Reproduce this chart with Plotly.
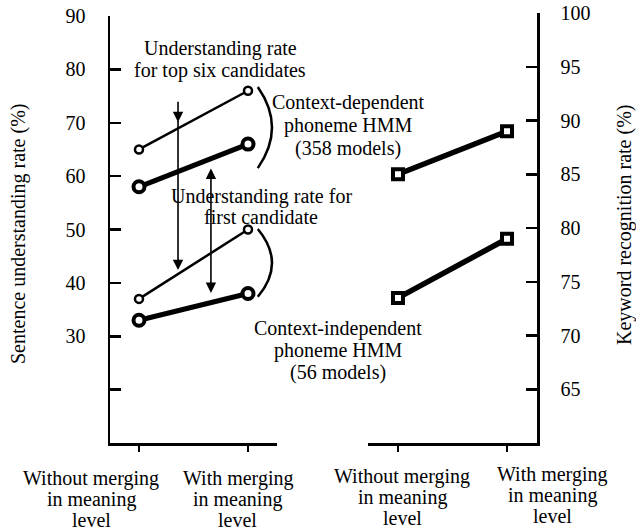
import plotly.graph_objects as go

W, H = 636, 531

# ---------------- data ----------------
categories = ["Without merging in meaning level", "With merging in meaning level"]
category_lines = [["Without merging", "in meaning", "level"], ["With merging", "in meaning", "level"]]

# Sentence understanding rate (%) - left panel
top6_context_dependent = [65, 76]
first_context_dependent = [58, 66]
top6_context_independent = [37, 50]
first_context_independent = [33, 38]

# Keyword recognition rate (%) - right panel
keyword_context_dependent = [85, 89]
keyword_context_independent = [73.5, 79]

left_tickvals = [20, 30, 40, 50, 60, 70, 80, 90]
left_ticktext = ["", "30", "40", "50", "60", "70", "80", "90"]
right_tickvals = [65, 70, 75, 80, 85, 90, 95, 100]
right_ticktext = ["65", "70", "75", "80", "85", "90", "95", "100"]

FONT = "Liberation Serif"


def px(x):
    return x / W


def py(y):
    return 1 - y / H


fig = go.Figure()

left_series = [
    (top6_context_dependent, 2.5, 8, 2.5),
    (first_context_dependent, 5, 11, 4),
    (top6_context_independent, 2.5, 8, 2.5),
    (first_context_independent, 5, 11, 4),
]
for vals, lw, ms, mlw in left_series:
    fig.add_trace(go.Scatter(
        x=categories, y=vals, mode="lines+markers",
        line=dict(color="black", width=lw),
        marker=dict(symbol="circle", size=ms, color="white",
                    line=dict(color="black", width=mlw)),
        xaxis="x", yaxis="y", showlegend=False, hoverinfo="skip", cliponaxis=False))

for vals in (keyword_context_dependent, keyword_context_independent):
    fig.add_trace(go.Scatter(
        x=categories, y=vals, mode="lines+markers",
        line=dict(color="black", width=5.5),
        marker=dict(symbol="square", size=10, color="white",
                    line=dict(color="black", width=4)),
        xaxis="x2", yaxis="y2", showlegend=False, hoverinfo="skip", cliponaxis=False))

axis_common = dict(showline=True, linecolor="black", linewidth=2.5, showgrid=False,
                   zeroline=False, tickcolor="black", automargin=False)

fig.update_layout(
    width=W, height=H, autosize=False,
    margin=dict(l=0, r=0, t=0, b=0, pad=0),
    paper_bgcolor="white", plot_bgcolor="white",
    showlegend=False,
    xaxis=dict(domain=[px(110), px(277)], type="category", range=[-0.266, 1.266],
               ticks="outside", ticklen=6, tickwidth=2, showticklabels=False,
               anchor="y", **axis_common),
    yaxis=dict(domain=[py(443), py(16)], range=[10, 90], tickvals=left_tickvals,
               ticktext=left_ticktext, ticks="inside", ticklen=11, tickwidth=2.5,
               tickfont=dict(family=FONT, size=20, color="black"),
               ticklabelstandoff=18, ticklabeloverflow="allow",
               anchor="x", **axis_common),
    xaxis2=dict(domain=[px(368), px(537)], type="category", range=[-0.275, 1.275],
                ticks="outside", ticklen=6, tickwidth=2, showticklabels=False,
                anchor="y2", **axis_common),
    yaxis2=dict(domain=[py(443), py(13)], range=[60, 100], tickvals=right_tickvals,
                ticktext=right_ticktext, ticks="inside", ticklen=11, tickwidth=2.5,
                side="right", tickfont=dict(family=FONT, size=20, color="black"),
                ticklabelstandoff=17, ticklabeloverflow="allow",
                anchor="x2", **axis_common),
)

annotations = []


def add_lines(lines, cx, y0, dy=22, size=20):
    for i, t in enumerate(lines):
        annotations.append(dict(
            text=t, x=px(cx), y=py(y0 + i * dy), xref="paper", yref="paper",
            xanchor="center", yanchor="middle", showarrow=False,
            font=dict(family=FONT, size=size, color="black")))


# category labels under each panel
add_lines(category_lines[0], 91, 478, dy=21)
add_lines(category_lines[1], 238, 478, dy=21)
add_lines(category_lines[0], 402, 476, dy=21)
add_lines(category_lines[1], 552, 474, dy=21)

# in-plot labels
add_lines(["Understanding rate", "for top six candidates"], 220, 48, dy=22)
add_lines(["Context-dependent", "phoneme HMM", "(358 models)"], 348, 102, dy=23)
add_lines(["Understanding rate for", "first candidate"], 261, 196, dy=21)
add_lines(["Context-independent", "phoneme HMM", "(56 models)"], 338, 328, dy=22)

# axis titles
annotations.append(dict(text="Sentence understanding rate (%)", x=px(19), y=py(234),
                        xref="paper", yref="paper", textangle=-90, showarrow=False,
                        xanchor="center", yanchor="middle",
                        font=dict(family=FONT, size=20, color="black")))
annotations.append(dict(text="Keyword recognition rate (%)", x=px(624), y=py(225),
                        xref="paper", yref="paper", textangle=-90, showarrow=False,
                        xanchor="center", yanchor="middle",
                        font=dict(family=FONT, size=20, color="black")))

# arrows (left panel, data coordinates)
arrow_style = dict(xref="x", yref="y", axref="x", ayref="y", text="", showarrow=True,
                   arrowcolor="black", arrowwidth=1.6, arrowhead=2, arrowsize=1.3,
                   standoff=0, startstandoff=0)
annotations.append(dict(x=0.358, y=70.1, ax=0.358, ay=74.2, **arrow_style))
annotations.append(dict(x=0.358, y=42.4, ax=0.358, ay=70.6, **arrow_style))
annotations.append(dict(x=0.66, y=38.1, ax=0.66, ay=61.7, arrowside="end+start",
                        **arrow_style))

fig.update_layout(annotations=annotations)

# brackets
fig.add_shape(type="path", xref="x", yref="y",
              path="M 1.09,76.7 Q 1.35,69.1 1.09,61.5",
              line=dict(color="black", width=2.5))
fig.add_shape(type="path", xref="x", yref="y",
              path="M 1.09,50.1 Q 1.35,43.7 1.09,37.4",
              line=dict(color="black", width=2.5))

fig.write_html("out.html",
               config={"displayModeBar": False, "staticPlot": True},
               post_script="document.body.style.margin='0';"
                           "document.documentElement.style.overflow='hidden';")
